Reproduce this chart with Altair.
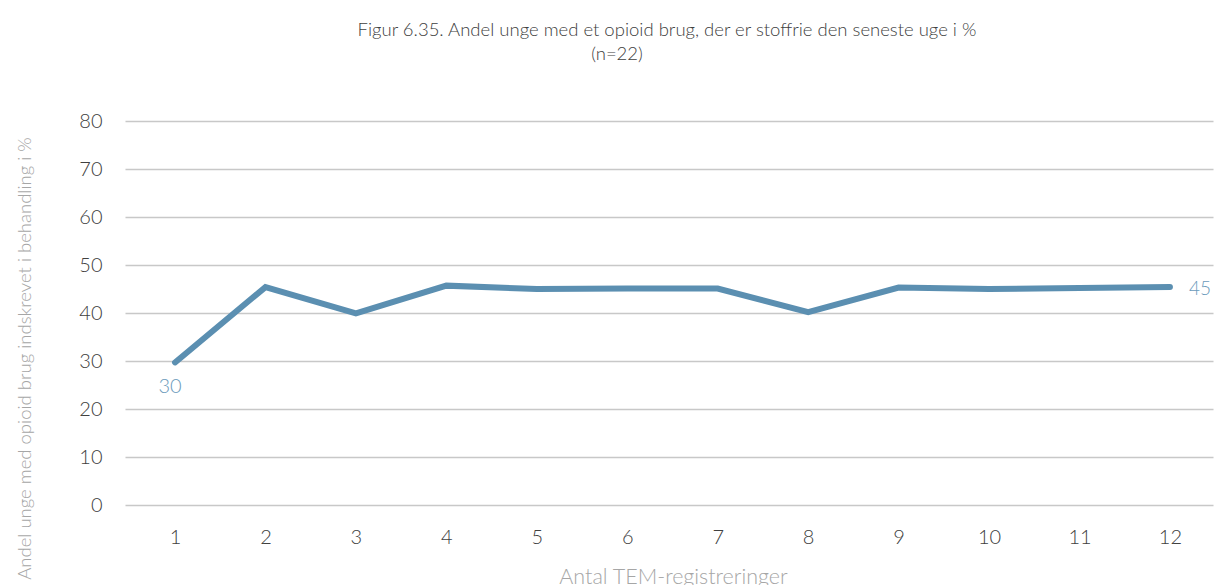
import altair as alt
import pandas as pd

registrations = [1, 2, 3, 4, 5, 6, 7, 8, 9, 10, 11, 12]
shares = [29.7, 45.4, 39.9, 45.7, 45.0, 45.1, 45.1, 40.2, 45.3, 45.0, 45.2, 45.4]
label_text = ["30", "", "", "", "", "", "", "", "", "", "", "45"]
y_ticks = [0, 10, 20, 30, 40, 50, 60, 70, 80]

title_line1 = "Figur 6.35. Andel unge med et opioid brug, der er stoffrie den seneste uge i %"
title_line2 = "(n=22)"
y_title = "Andel unge med opioid brug indskrevet i behandling i %"
x_title = "Antal TEM-registreringer"

df = pd.DataFrame({"reg": registrations, "share": shares, "label": label_text})

FONT = "Lato"
W = 300
LINE = "#5b8fb1"

x_enc = alt.X(
    "reg:Q",
    scale=alt.Scale(domain=[0.447, 12.476], nice=False, zero=False),
    axis=alt.Axis(
        values=registrations, format="d", grid=False, domain=False, ticks=False,
        labelPadding=22, labelFontSize=20, labelColor="#404040", labelFont=FONT,
        labelFontWeight=W,
        title=x_title, titleFont=FONT, titleFontSize=21.5, titleFontWeight=W,
        titleColor="#a6a6a6", titleX=548, titleY=78, titleBaseline="alphabetic",
        titleAnchor="middle", titleAlign="center",
    ),
)
y_enc = alt.Y(
    "share:Q",
    scale=alt.Scale(domain=[0, 80], nice=False),
    axis=alt.Axis(
        values=y_ticks, grid=True, gridColor="#c8c8c8", gridWidth=1.5,
        domain=False, ticks=False, labelPadding=23, labelFontSize=20,
        labelColor="#404040", labelFont=FONT, labelFontWeight=W,
        title=y_title, titleFont=FONT, titleFontSize=18.5, titleFontWeight=W,
        titleColor="#a6a6a6", titleX=-95, titleY=237, titleAngle=-90,
        titleBaseline="alphabetic", titleAlign="center",
    ),
)

line = alt.Chart(df).mark_line(color=LINE, strokeWidth=6, strokeCap="round",
                               strokeJoin="miter").encode(x=x_enc, y=y_enc)

first = alt.Chart(df).transform_filter("datum.reg == 1").mark_text(
    font=FONT, fontWeight=W, fontSize=20, color="#6b9abb", dy=25, dx=-5, align="center"
).encode(x="reg:Q", y="share:Q", text="label:N")

last = alt.Chart(df).transform_filter("datum.reg == 12").mark_text(
    font=FONT, fontWeight=W, fontSize=19, color="#6b9abb", dx=19, dy=2, align="left", baseline="middle"
).encode(x="reg:Q", y="share:Q", text="label:N")

t1 = alt.Chart(df).transform_filter("datum.reg == 1").mark_text(
    font=FONT, fontWeight=W, fontSize=18.5, color="#404040", align="center", baseline="alphabetic"
).encode(x=alt.value(542), y=alt.value(-85), text=alt.value(title_line1))

t2 = alt.Chart(df).transform_filter("datum.reg == 1").mark_text(
    font=FONT, fontWeight=W, fontSize=18.5, color="#404040", align="center", baseline="alphabetic"
).encode(x=alt.value(492), y=alt.value(-61), text=alt.value(title_line2))

chart = alt.layer(line, first, last, t1, t2).properties(
    width=1088, height=384,
    autosize=alt.AutoSizeParams(type="none"),
    padding={"left": 117, "top": 113, "right": 2, "bottom": 80},
    background="white",
).configure_view(stroke=None)

chart.save("out.html", embed_options={"renderer": "svg", "actions": False})
